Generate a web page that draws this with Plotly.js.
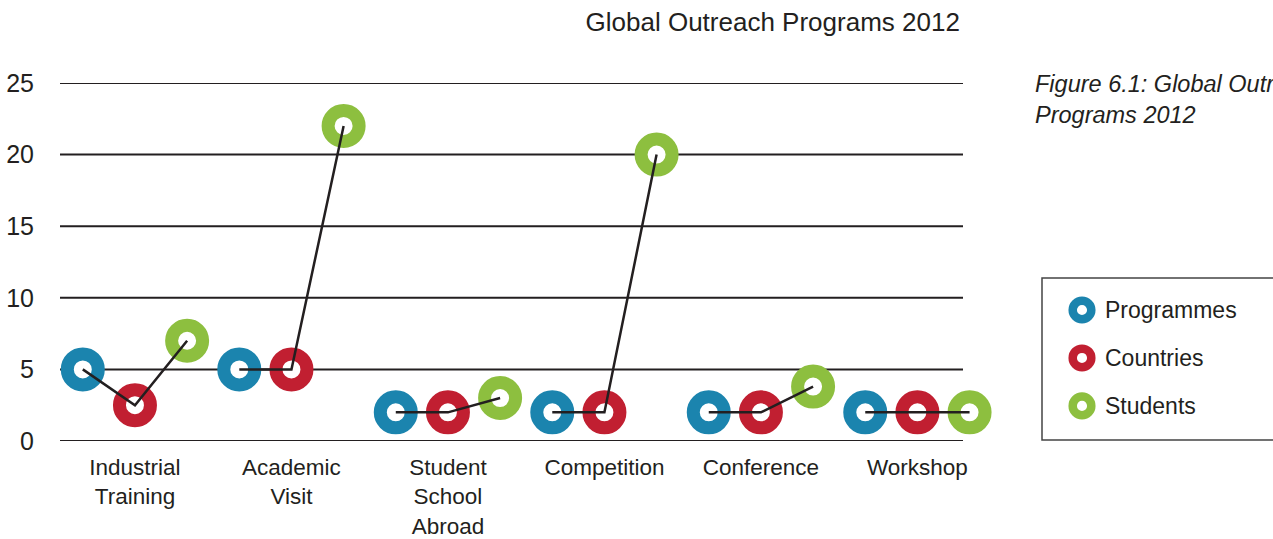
<!DOCTYPE html>
<html>
<head>
<meta charset="utf-8">
<script src="https://cdn.plot.ly/plotly-3.0.1.min.js"></script>
<style>html,body{margin:0;padding:0;background:#fff;}#chart{width:1273px;height:539px;}</style>
</head>
<body>
<div id="chart"></div>
<script>
var categories = ["Industrial<br>Training", "Academic<br>Visit", "Student<br>School<br>Abroad", "Competition", "Conference", "Workshop"];
var seriesNames = ["Programmes", "Countries", "Students"];
var programmes = [5, 5, 2, 2, 2, 2];
var countries = [2.5, 5, 2, 2, 2, 2];
var students = [7, 22, 3, 20, 3.8, 2];
var colors = ["#1b84ae", "#c11f31", "#8dbf3f"];
var yTicks = [0, 5, 10, 15, 20, 25];

var seriesValues = [programmes, countries, students];
var offsets = [-1/3, 0, 1/3];
var ink = "#231f20";
var fontFam = "'Liberation Sans', Arial, Helvetica, sans-serif";

// plot area spans 60px..975px; grid lines stop at 963px
var plotW = 915;
function px(p) { return (p - 60) / plotW; }

var traces = [];
seriesValues.forEach(function(vals, s) {
  traces.push({
    type: "scatter", mode: "markers", name: seriesNames[s],
    x: categories.map(function(c, i) { return i + offsets[s]; }),
    y: vals,
    cliponaxis: false,
    showlegend: false,
    marker: {size: 31, color: "#ffffff", line: {color: colors[s], width: 13}},
    hoverinfo: "y"
  });
});
var lx = [], ly = [];
categories.forEach(function(c, i) {
  seriesValues.forEach(function(vals, s) { lx.push(i + offsets[s]); ly.push(vals[i]); });
  lx.push(null); ly.push(null);
});
traces.push({
  type: "scatter", mode: "lines", x: lx, y: ly, cliponaxis: false, showlegend: false,
  line: {color: ink, width: 2.5}, hoverinfo: "skip"
});

var shapes = [];
yTicks.forEach(function(t) {
  shapes.push({type: "line", xref: "paper", yref: "y", x0: 0, x1: px(963), y0: t, y1: t,
               line: {color: ink, width: 2}, layer: "below"});
});
shapes.push({
  type: "rect", xref: "paper", yref: "paper",
  x0: px(1042), x1: px(1290), y0: 0.003, y1: 0.455,
  line: {color: "#444", width: 1.5}, fillcolor: "rgba(0,0,0,0)"
});
var annotations = [{
  xref: "paper", yref: "paper", x: px(1033), y: 1.04, xanchor: "left", yanchor: "top",
  text: "<i>Figure 6.1: Global Outreach<br>Programs 2012</i>", align: "left", showarrow: false,
  font: {family: fontFam, size: 23.5, color: ink}
}];
var legendY = [0.366, 0.232, 0.098];
seriesNames.forEach(function(n, s) {
  shapes.push({
    type: "circle", xref: "paper", yref: "paper", xsizemode: "pixel", ysizemode: "pixel",
    xanchor: px(1082), yanchor: legendY[s], x0: -9.3, x1: 9.3, y0: -9.3, y1: 9.3,
    line: {color: colors[s], width: 8.5}, fillcolor: "#ffffff"
  });
  annotations.push({
    xref: "paper", yref: "paper", x: px(1103), y: legendY[s], xanchor: "left", yanchor: "middle",
    text: n, showarrow: false, font: {family: fontFam, size: 23, color: ink}
  });
});

var layout = {
  width: 1273, height: 539,
  margin: {l: 60, r: 1273 - 60 - plotW, t: 83, b: 98, pad: 0},
  paper_bgcolor: "#ffffff", plot_bgcolor: "#ffffff",
  font: {family: fontFam, color: ink},
  title: {text: "Global Outreach Programs 2012", xref: "container", yref: "container",
          x: 0.607, y: 0.959, xanchor: "center", yanchor: "middle",
          font: {family: fontFam, size: 26, color: ink}},
  showlegend: false,
  xaxis: {
    range: [-0.479, 5.368], tickmode: "array",
    tickvals: categories.map(function(c, i) { return i; }), ticktext: categories,
    showgrid: false, zeroline: false, showline: false,
    ticks: "outside", ticklen: 6, tickcolor: "rgba(0,0,0,0)",
    tickfont: {family: fontFam, size: 22.5, color: ink}
  },
  yaxis: {
    range: [0, 25], tickmode: "array", tickvals: yTicks,
    showgrid: false, zeroline: false, showline: false,
    ticks: "outside", ticklen: 20, tickcolor: "rgba(0,0,0,0)",
    tickfont: {family: fontFam, size: 25, color: ink}
  },
  shapes: shapes,
  annotations: annotations
};
Plotly.newPlot("chart", traces, layout, {displayModeBar: false, staticPlot: true});
</script>
</body>
</html>
